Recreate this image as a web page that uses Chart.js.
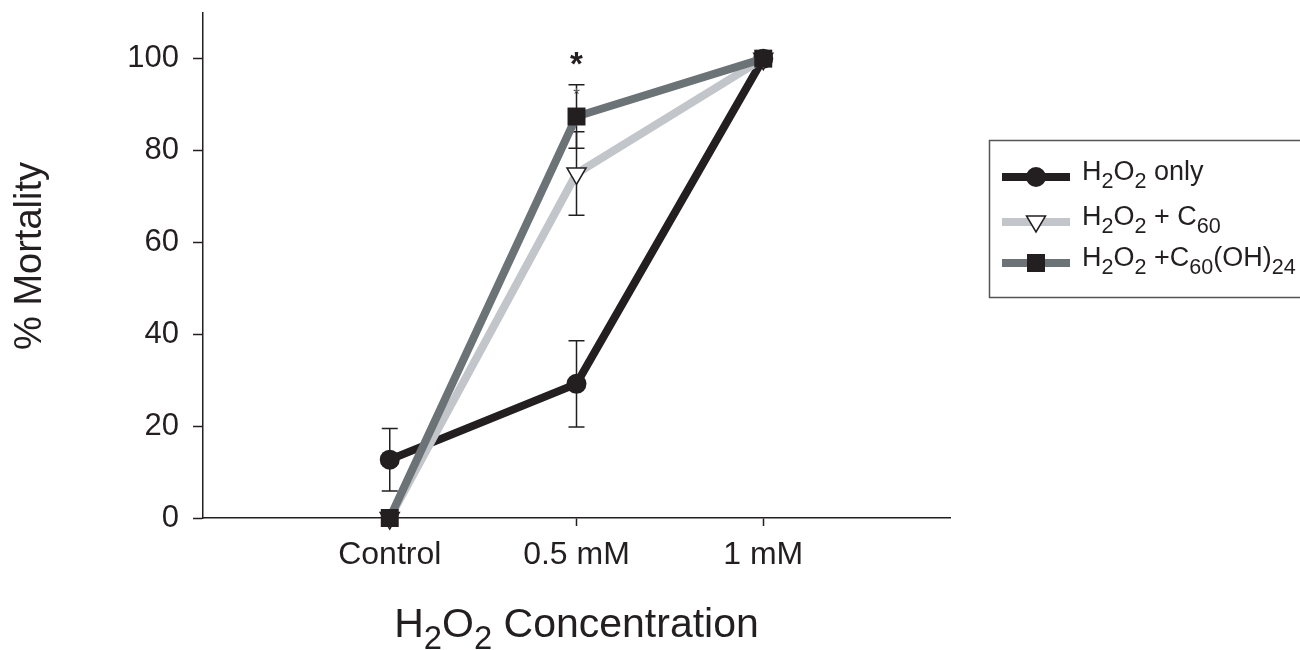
<!DOCTYPE html>
<html>
<head>
<meta charset="utf-8">
<script src="https://cdn.jsdelivr.net/npm/chart.js@4.4.1/dist/chart.umd.min.js"></script>
<style>
    html, body { margin: 0; background: #fff; }
    #wrap { width: 1300px; height: 650px; position: relative; }
</style>
</head>
<body>
<div id="wrap"><canvas id="mortality"></canvas></div>
<script>
const categories = ['Control', '0.5 mM', '1 mM'];
const yTicks = [0, 20, 40, 60, 80, 100];

const h2o2Only = [12.7, 29.2, 100];
const h2o2OnlyErr = [6.8, 9.4, 0];
const h2o2C60 = [0, 75, 100];
const h2o2C60Err = [0, 9.1, 0];
const h2o2C60OH = [0, 87.4, 100];
const h2o2C60OHErr = [0, 6.9, 0];

// significance marks above the 0.5 mM group
const marks = [
    { x: 2, y: 100.6, text: '*', size: 33, bold: true, color: '#231f20' },
    { x: 2, y: 93.2, text: '*', size: 17, bold: false, color: '#555' },
];

const FONT = '"Liberation Sans", Arial, Helvetica, sans-serif';
const INK = '#231f20';

// label pieces: [text, isSubscript]
const legendItems = [
    { color: INK, style: 'circle', fill: INK, parts: [['H'], ['2', 1], ['O'], ['2', 1], [' only']] },
    { color: '#c2c6ca', style: 'triangle', fill: '#fff', parts: [['H'], ['2', 1], ['O'], ['2', 1], [' + C'], ['60', 1]] },
    { color: '#6c7377', style: 'rect', fill: INK, parts: [['H'], ['2', 1], ['O'], ['2', 1], [' +C'], ['60', 1], ['(OH)'], ['24', 1]] },
];
const xTitle = [['H'], ['2', 1], ['O'], ['2', 1], [' Concentration']];

const toPoints = vals => vals.map((v, i) => ({ x: i + 1, y: v }));

function richText(ctx, parts, x, y, size, align) {
    const subSize = size * 0.8;
    let w = 0;
    parts.forEach(([t, sub]) => {
        ctx.font = `${sub ? subSize : size}px ${FONT}`;
        w += ctx.measureText(t).width;
    });
    let cx = align === 'center' ? x - w / 2 : x;
    ctx.textAlign = 'left';
    ctx.textBaseline = 'alphabetic';
    parts.forEach(([t, sub]) => {
        ctx.font = `${sub ? subSize : size}px ${FONT}`;
        ctx.fillText(t, cx, sub ? y + size * 0.3 : y);
        cx += ctx.measureText(t).width;
    });
}

function marker(ctx, style, x, y, fill) {
    ctx.save();
    ctx.fillStyle = fill;
    ctx.strokeStyle = INK;
    ctx.lineWidth = 1.5;
    ctx.beginPath();
    if (style === 'circle') {
        ctx.arc(x, y, 10, 0, Math.PI * 2);
        ctx.fill();
    } else if (style === 'rect') {
        ctx.rect(x - 9, y - 9, 18, 18);
        ctx.fill();
    } else {
        ctx.moveTo(x - 9.5, y - 6);
        ctx.lineTo(x + 9.5, y - 6);
        ctx.lineTo(x, y + 10);
        ctx.closePath();
        ctx.fill();
        ctx.stroke();
    }
    ctx.restore();
}

const errorBars = {
    id: 'errorBars',
    beforeDatasetsDraw(chart) {
        const { ctx, scales: { x, y } } = chart;
        ctx.save();
        ctx.strokeStyle = INK;
        ctx.lineWidth = 1.5;
        chart.data.datasets.forEach(ds => {
            ds.errors.forEach((e, i) => {
                if (!e) return;
                const px = x.getPixelForValue(i + 1);
                const top = y.getPixelForValue(ds.data[i].y + e);
                const bot = y.getPixelForValue(ds.data[i].y - e);
                ctx.beginPath();
                ctx.moveTo(px, top); ctx.lineTo(px, bot);
                ctx.moveTo(px - 8, top); ctx.lineTo(px + 8, top);
                ctx.moveTo(px - 8, bot); ctx.lineTo(px + 8, bot);
                ctx.stroke();
            });
        });
        ctx.restore();
    }
};

const decorations = {
    id: 'decorations',
    afterDraw(chart) {
        const { ctx, scales: { x, y } } = chart;
        ctx.save();

        // asterisks
        marks.forEach(m => {
            ctx.font = `${m.bold ? 'bold ' : ''}${m.size}px ${FONT}`;
            ctx.fillStyle = m.color;
            ctx.textAlign = 'center';
            ctx.textBaseline = 'alphabetic';
            ctx.fillText(m.text, x.getPixelForValue(m.x), y.getPixelForValue(m.y) + m.size * 0.57);
        });

        // axis titles
        ctx.fillStyle = INK;
        richText(ctx, xTitle, x.getPixelForValue(2), 637, 41, 'center');

        ctx.save();
        ctx.translate(41, 256);
        ctx.rotate(-Math.PI / 2);
        ctx.font = `38px ${FONT}`;
        ctx.textAlign = 'center';
        ctx.textBaseline = 'alphabetic';
        ctx.fillText('% Mortality', 0, 0);
        ctx.restore();

        // legend box
        ctx.strokeStyle = '#555';
        ctx.lineWidth = 1.5;
        ctx.strokeRect(989.5, 140.5, 320, 157);
        const rows = [177, 222, 263];
        legendItems.forEach((item, i) => {
            const ly = rows[i];
            ctx.strokeStyle = item.color;
            ctx.lineWidth = 8;
            ctx.beginPath();
            ctx.moveTo(1002, ly);
            ctx.lineTo(1070, ly);
            ctx.stroke();
            marker(ctx, item.style, 1036, ly, item.fill);
            ctx.fillStyle = INK;
            richText(ctx, item.parts, 1082, ly + 3, 27, 'left');
        });

        ctx.restore();
    }
};

new Chart(document.getElementById('mortality').getContext('2d'), {
    type: 'line',
    data: {
        datasets: [
            {
                label: 'H2O2 only', data: toPoints(h2o2Only), errors: h2o2OnlyErr,
                borderColor: INK, backgroundColor: INK, borderWidth: 8, order: 3,
                pointStyle: 'circle', pointRadius: 10, pointBorderWidth: 0, pointBackgroundColor: INK
            },
            {
                label: 'H2O2 + C60', data: toPoints(h2o2C60), errors: h2o2C60Err,
                borderColor: '#c2c6ca', borderWidth: 8, order: 2,
                pointStyle: 'triangle', pointRotation: 180, pointRadius: 11,
                pointBorderWidth: 1.5, pointBorderColor: INK, pointBackgroundColor: '#fff'
            },
            {
                label: 'H2O2 + C60(OH)24', data: toPoints(h2o2C60OH), errors: h2o2C60OHErr,
                borderColor: '#6c7377', borderWidth: 8, order: 1,
                pointStyle: 'rect', pointRadius: 12.7, pointBorderWidth: 0, pointBackgroundColor: INK
            }
        ]
    },
    options: {
        responsive: true, maintainAspectRatio: false, animation: false,
        layout: { padding: { left: 0, right: 350, top: 12, bottom: 0 } },
        elements: { line: { tension: 0, borderJoinStyle: 'round' } },
        datasets: { line: { clip: false } },
        plugins: { legend: { display: false }, tooltip: { enabled: false } },
        scales: {
            x: {
                type: 'linear', min: 0, max: 4,
                afterBuildTicks: axis => { axis.ticks = categories.map((c, i) => ({ value: i + 1 })); },
                afterFit: axis => { axis.height = 132; axis.paddingLeft = 0; axis.paddingRight = 0; },
                ticks: {
                    callback: v => categories[v - 1] || '',
                    color: INK, font: { family: FONT, size: 32 }, padding: 10, maxRotation: 0
                },
                grid: { drawOnChartArea: false, drawTicks: true, tickLength: 8, tickWidth: 1.5, tickColor: INK },
                border: { color: INK, width: 1.5 }
            },
            y: {
                min: 0, max: 110,
                afterBuildTicks: axis => { axis.ticks = yTicks.map(v => ({ value: v })); },
                afterFit: axis => { axis.width = 203; axis.paddingTop = 0; axis.paddingBottom = 0; },
                ticks: { color: INK, font: { family: FONT, size: 31 }, padding: 14 },
                grid: { drawOnChartArea: false, drawTicks: true, tickLength: 10, tickWidth: 1.5, tickColor: INK },
                border: { color: INK, width: 1.5 }
            }
        }
    },
    plugins: [errorBars, decorations]
});
</script>
</body>
</html>
